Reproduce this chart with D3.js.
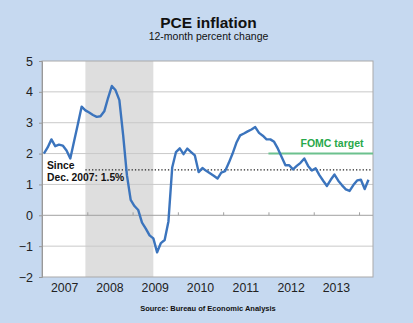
<!DOCTYPE html>
<html>
<head>
<meta charset="utf-8">
<script src="https://cdn.jsdelivr.net/npm/d3@7"></script>
<style>
  html, body { margin: 0; padding: 0; background: #c6d9f0; }
  svg { display: block; }
  text { font-family: "Liberation Sans", Arial, sans-serif; }
</style>
</head>
<body>
<div id="chart"></div>
<script>
// ---- Data (monthly, Jan 2007 – Mar 2014), 12-month % change ----
const startYear = 2007;
const values2007 = [2.0, 2.2, 2.46, 2.24, 2.29, 2.26, 2.1, 1.84, 2.4, 2.95, 3.52, 3.4];
const values2008 = [3.33, 3.25, 3.19, 3.21, 3.37, 3.8, 4.19, 4.05, 3.73, 2.6, 1.3, 0.5];
const values2009 = [0.3, 0.17, -0.24, -0.43, -0.65, -0.75, -1.2, -0.9, -0.8, -0.2, 1.55, 2.05];
const values2010 = [2.17, 1.98, 2.16, 2.05, 1.94, 1.4, 1.53, 1.44, 1.36, 1.28, 1.19, 1.38];
const values2011 = [1.43, 1.7, 2.0, 2.35, 2.59, 2.65, 2.72, 2.78, 2.86, 2.67, 2.58, 2.46];
const values2012 = [2.46, 2.38, 2.16, 1.89, 1.62, 1.62, 1.49, 1.6, 1.7, 1.84, 1.6, 1.45];
const values2013 = [1.52, 1.3, 1.12, 0.95, 1.15, 1.32, 1.12, 0.97, 0.84, 0.79, 0.98, 1.13];
const values2014 = [1.15, 0.85, 1.15];
const pce = [].concat(values2007, values2008, values2009, values2010, values2011, values2012, values2013, values2014);

const yearLabels = ["2007", "2008", "2009", "2010", "2011", "2012", "2013"];
const yTicks = [-2, -1, 0, 1, 2, 3, 4, 5];
const recession = { startMonth: 11, endMonth: 29 };   // Dec 2007 – Jun 2009
const fomcTarget = { value: 2, startMonth: 60 };       // from Jan 2012
const sinceAvg = { value: 1.47, startMonth: 11 };      // average since Dec 2007
const title = "PCE inflation";
const subtitle = "12-month percent change";
const source = "Source: Bureau of Economic Analysis";

// ---- Layout ----
const W = 413, H = 323;
const plot = { left: 42, right: 373, top: 61, bottom: 277 };
const monthsSpan = 87.7;

const svg = d3.select("#chart").append("svg").attr("width", W).attr("height", H);
svg.append("rect").attr("width", W).attr("height", H).attr("fill", "#c6d9f0");

const x = d3.scaleLinear().domain([0, monthsSpan]).range([plot.left, plot.right]);
const y = d3.scaleLinear().domain([-2, 5]).range([plot.bottom, plot.top]);

// plot background
svg.append("rect")
  .attr("x", plot.left).attr("y", plot.top)
  .attr("width", plot.right - plot.left).attr("height", plot.bottom - plot.top)
  .attr("fill", "#ffffff");

// recession shading
svg.append("rect")
  .attr("x", x(recession.startMonth + 0.5))
  .attr("y", plot.top)
  .attr("width", x(recession.endMonth + 0.5) - x(recession.startMonth + 0.5))
  .attr("height", plot.bottom - plot.top)
  .attr("fill", "#dedede");

// gridlines
svg.append("g").selectAll("line").data(yTicks.filter(d => d !== 0 && d !== -2 && d !== 5)).join("line")
  .attr("x1", plot.left).attr("x2", plot.right)
  .attr("y1", d => y(d)).attr("y2", d => y(d))
  .attr("stroke", "#c9c9c9").attr("stroke-width", 1);

// plot border
svg.append("rect")
  .attr("x", plot.left).attr("y", plot.top)
  .attr("width", plot.right - plot.left).attr("height", plot.bottom - plot.top)
  .attr("fill", "none").attr("stroke", "#a9a9a9").attr("stroke-width", 1);

// y axis
const yAxis = d3.axisLeft(y).tickValues(yTicks).tickSize(3).tickPadding(6).tickFormat(d3.format("d"));
const gy = svg.append("g").attr("transform", `translate(${plot.left},0)`).call(yAxis);
gy.select(".domain").attr("stroke", "#999");
gy.selectAll(".tick line").attr("stroke", "#999");
gy.selectAll("text").attr("font-size", 12.5).attr("fill", "#222");

// zero line with year ticks
const yearTickMonths = d3.range(12, 85, 12);
const gx = svg.append("g").attr("transform", `translate(0,${y(0)})`)
  .call(d3.axisTop(x).tickValues(yearTickMonths).tickSize(3).tickFormat(""));
gx.select(".domain").attr("stroke", "#a0a0a0").attr("d", `M${plot.left},0H${plot.right}`);
gx.selectAll(".tick line").attr("stroke", "#a0a0a0");

// year labels
svg.append("g").selectAll("text").data(yearLabels).join("text")
  .attr("x", (d, i) => x(i * 12 + 6))
  .attr("y", 292)
  .attr("text-anchor", "middle")
  .attr("font-size", 12.3)
  .attr("fill", "#222")
  .text(d => d);

// FOMC target line
svg.append("line")
  .attr("x1", x(fomcTarget.startMonth)).attr("x2", plot.right)
  .attr("y1", y(fomcTarget.value)).attr("y2", y(fomcTarget.value))
  .attr("stroke", "#6cc18e").attr("stroke-width", 2);
svg.append("text")
  .attr("x", 332).attr("y", 147)
  .attr("text-anchor", "middle")
  .attr("font-size", 10.5).attr("font-weight", "bold")
  .attr("fill", "#27a84a")
  .text("FOMC target");

// average dotted line
svg.append("line")
  .attr("x1", x(sinceAvg.startMonth + 0.5)).attr("x2", x(87.3))
  .attr("y1", y(sinceAvg.value)).attr("y2", y(sinceAvg.value))
  .attr("stroke", "#222").attr("stroke-width", 1.3)
  .attr("stroke-dasharray", "1.3,2");

// PCE line
const line = d3.line()
  .x((d, i) => x(i + 0.5))
  .y(d => y(d));
svg.append("path")
  .datum(pce)
  .attr("d", line)
  .attr("fill", "none")
  .attr("stroke", "#3b74bd")
  .attr("stroke-width", 2.4)
  .attr("stroke-linejoin", "round");

// annotation
const ann = svg.append("text").attr("font-size", 10.3).attr("font-weight", "bold").attr("fill", "#111");
ann.append("tspan").attr("x", 47).attr("y", 169).text("Since");
ann.append("tspan").attr("x", 47).attr("y", 181).text("Dec. 2007: 1.5%");

// titles
svg.append("text").attr("x", 208.5).attr("y", 27.5).attr("text-anchor", "middle")
  .attr("font-size", 15.5).attr("font-weight", "bold").attr("fill", "#111").text(title);
svg.append("text").attr("x", 208.5).attr("y", 40).attr("text-anchor", "middle")
  .attr("font-size", 10.5).attr("fill", "#111").text(subtitle);

// source
svg.append("text").attr("x", 208).attr("y", 311).attr("text-anchor", "middle")
  .attr("font-size", 7.5).attr("font-weight", "bold").attr("fill", "#111").text(source);
</script>
</body>
</html>
